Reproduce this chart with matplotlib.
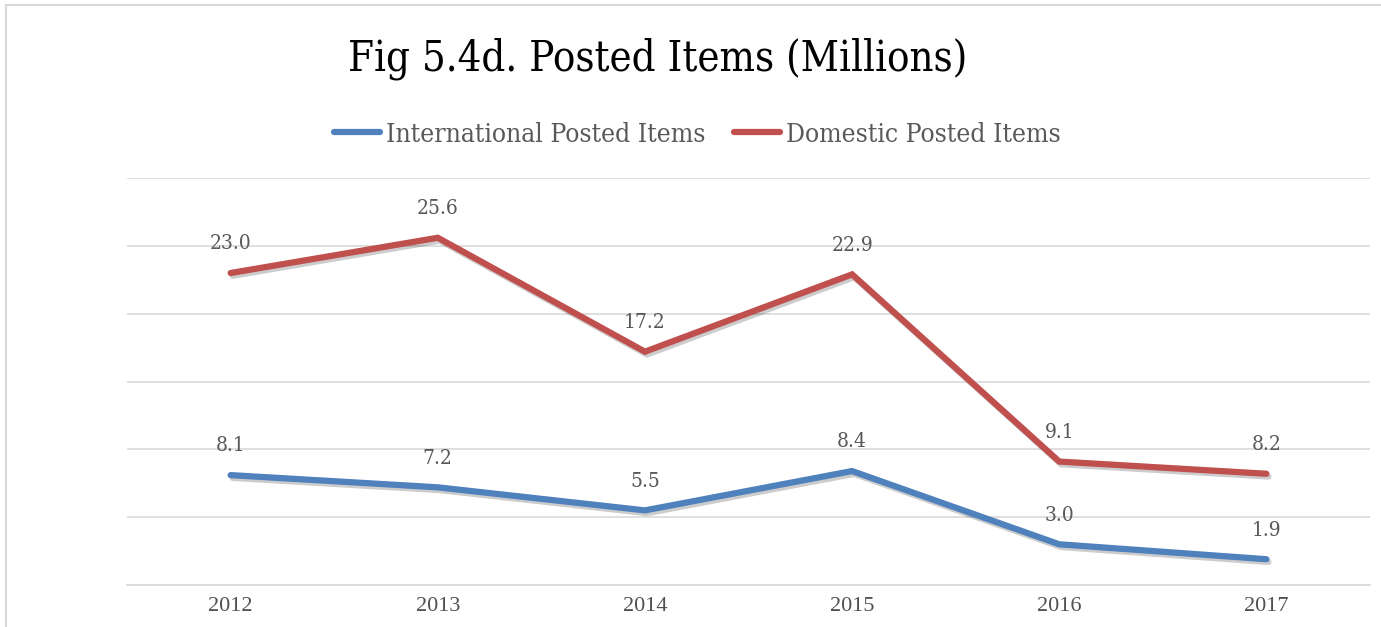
import matplotlib.pyplot as plt
import matplotlib.patheffects as pe
from matplotlib.lines import Line2D

# datos
years = ["2012", "2013", "2014", "2015", "2016", "2017"]
international = [8.1, 7.2, 5.5, 8.4, 3.0, 1.9]
domestic = [23.0, 25.6, 17.2, 22.9, 9.1, 8.2]

azul = "#4F81BD"
rojo = "#C0504D"
gris = "#595959"
fuente = "DejaVu Serif"

fig = plt.figure(figsize=(13.81, 6.27), dpi=100)
ax = fig.add_axes([0.092, 0.067, 0.9, 0.649])

sombra = [pe.SimpleLineShadow(offset=(1.5, -2), shadow_color="black", alpha=0.2), pe.Normal()]
x = list(range(len(years)))
ax.plot(x, international, color=azul, lw=4.5, solid_capstyle="round",
        solid_joinstyle="miter", path_effects=sombra, label="International Posted Items")
ax.plot(x, domestic, color=rojo, lw=4.5, solid_capstyle="round",
        solid_joinstyle="miter", path_effects=sombra, label="Domestic Posted Items")

for serie in (international, domestic):
    for i, v in enumerate(serie):
        ax.annotate(f"{v:.1f}", (i, v), xytext=(0, 21), textcoords="offset points",
                    ha="center", va="center", fontsize=15, color=gris,
                    family=fuente, fontstretch="condensed")

ax.set_xlim(-0.5, 5.5)
ax.set_ylim(0, 30)
ax.set_yticks([0, 5, 10, 15, 20, 25, 30])
ax.set_yticklabels([])
ax.grid(axis="y", color="#D9D9D9", lw=1.2)
ax.set_axisbelow(True)
ax.tick_params(axis="y", length=0)
ax.tick_params(axis="x", length=0, pad=9)
ax.set_xticks(x)
ax.set_xticklabels(years, fontsize=16, color="#505050", family="Liberation Serif")
for s in ["top", "right", "left"]:
    ax.spines[s].set_visible(False)
ax.spines["bottom"].set_color("#D9D9D9")
ax.spines["bottom"].set_linewidth(1.2)

fig.text(0.476, 0.907, "Fig 5.4d. Posted Items (Millions)", ha="center", va="center",
         fontsize=30, color="black", family=fuente, fontstretch="condensed")

leg = fig.legend(loc="center", bbox_to_anchor=(0.505, 0.786), ncol=2, frameon=False,
                 prop={"family": fuente, "stretch": "condensed", "size": 19},
                 labelcolor=gris, handlelength=1.75, handletextpad=0.2, columnspacing=1.1)
for linea in leg.get_lines():
    linea.set_path_effects([])

# marco del grafico (solo izquierda y arriba)
bx, by = 6 / 1381, 1 - 5 / 627
fig.add_artist(Line2D([bx, bx], [0, by], transform=fig.transFigure, color="#D9D9D9", lw=1.5))
fig.add_artist(Line2D([bx, 1], [by, by], transform=fig.transFigure, color="#D9D9D9", lw=1.5))

plt.savefig("out.png", dpi=100)
